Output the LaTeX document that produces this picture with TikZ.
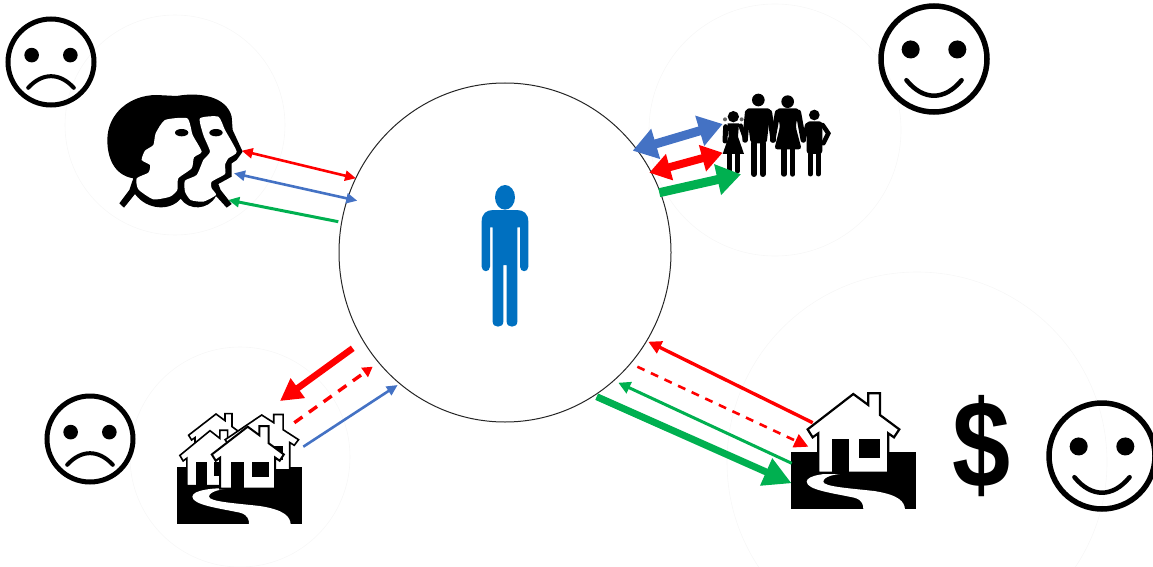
\documentclass[tikz,border=0pt]{standalone}
\usepackage{fontspec}
\setmainfont{Liberation Sans}
\usetikzlibrary{arrows.meta,shapes.geometric}
\definecolor{myred}{HTML}{FF0000}
\definecolor{myblue}{HTML}{4472C4}
\definecolor{mygreen}{HTML}{00B050}
\definecolor{personblue}{HTML}{0070C0}
\tikzset{
  thinline/.style={line width=2.6pt, >={Triangle[length=11pt,width=10pt]}},
  midline/.style={line width=3.4pt, >={Triangle[length=13pt,width=13pt]}},
  thickline/.style={line width=6.5pt, >={Triangle[length=22pt,width=23pt]}},
  fatline/.style={line width=9pt, >={Triangle[length=24pt,width=30pt]}},
  faint/.style={draw=black!3, line width=.6pt},
  sadface/.pic={
    \draw[line width=5pt] (0,0) circle (1);
    \fill (-.45,-.16) circle (.17);
    \fill (.45,-.16) circle (.17);
    \draw[line width=4pt, line cap=round] (-.53,.6) .. controls (-.2,.24) and (.2,.24) .. (.53,.6);
  },
  happyface/.pic={
    \draw[line width=5.5pt] (0,0) circle (1);
    \fill (-.44,-.18) circle (.17);
    \fill (.44,-.18) circle (.17);
    \draw[line width=4.5pt, line cap=round] (-.52,.4) .. controls (-.2,.79) and (.2,.79) .. (.52,.4);
  },
  % ground with the winding road, origin at its top left
  yard/.pic={
    \fill (0,0) rectangle (375,173);
    \fill[white] (172,65) .. controls (110,62) and (47,70) .. (47,90)
      .. controls (47,115) and (130,125) .. (190,138)
      .. controls (215,145) and (217,160) .. (217,173) -- (342,173)
      .. controls (340,150) and (325,130) .. (250,118)
      .. controls (180,110) and (97,105) .. (97,90)
      .. controls (97,75) and (130,66) .. (172,65) -- cycle;
  },
  % house, origin at the top of the roof
  homestead/.pic={
    \draw[fill=white, line join=miter] (0,0) -- (-137,106) -- (-122,130) -- (-105,118) -- (-105,236)
      -- (105,236) -- (105,118) -- (122,130) -- (138,106) -- (80,63) -- (80,-2) -- (45,-2) -- (45,33) -- cycle;
    \fill (-63,135) rectangle (-13,236);
    \fill (17,135) rectangle (80,193);
  }
}

\begin{document}
\begin{tikzpicture}[x = 1pt, y = -1pt]
\useasboundingbox (0,0) rectangle (1153,567);
% Faint rings behind the groups
\draw[faint] (175,125) circle (110);
\draw[faint] (775,130) circle (126);
\draw[faint] (240,457) circle (110);
\draw[faint] (917,462) circle (190);
% Central circle
\node[draw=black!85, ellipse, line width=1pt, minimum width=332pt, minimum height=339pt, inner sep=0pt] (self) at (505,252.5) {};
% Person in the circle
\begin{scope}[shift={(460,170)}, scale=1/3]
\fill[personblue] (135,82) ellipse (30 and 37);
\fill[personblue] (65,155) .. controls (65,130) and (80,120) .. (100,120) -- (170,120)
  .. controls (190,120) and (205,130) .. (205,155) -- (205,290)
  .. controls (205,308) and (180,308) .. (180,290) -- (180,172) -- (172,172) -- (172,455)
  .. controls (172,475) and (140,475) .. (140,455) -- (140,285) -- (130,285) -- (130,455)
  .. controls (130,475) and (98,475) .. (98,455) -- (98,172) -- (90,172) -- (90,290)
  .. controls (90,308) and (65,308) .. (65,290) -- cycle;
\end{scope}
% Friends, two heads
\begin{scope}[shift={(90,80)}, scale=1/3]
\fill (130,295) .. controls (70,285) and (52,230) .. (52,180) .. controls (52,100) and (120,45) .. (200,45)
  -- (260,48) .. controls (330,35) and (410,50) .. (425,110) -- (428,150) -- (458,215) -- (440,240) -- (425,250) -- (425,290)
  -- (385,312) -- (392,330) -- (425,372) -- (410,383) -- (378,348)
  .. controls (355,392) and (295,392) .. (272,356) .. controls (240,395) and (170,390) .. (135,342)
  -- (102,383) -- (88,370) -- (118,330) -- cycle;
\fill[white] plot[smooth cycle, tension=.35] coordinates {(225,120) (292,115) (308,165) (335,215) (312,232) (305,265) (265,295) (262,330) (240,350) (190,358) (145,328) (140,295) (175,278) (180,255) (155,240) (165,212) (190,195) (197,160)};
\fill[white] plot[smooth cycle, tension=.35] coordinates {(330,115) (385,110) (405,150) (440,215) (415,235) (405,255) (405,282) (365,305) (365,325) (378,345) (340,365) (302,360) (285,335) (285,302) (320,285) (340,240) (360,215) (340,165)};
\fill (275,158) ellipse (20 and 11);
\fill (378,158) ellipse (20 and 11);
\end{scope}
% Family
\begin{scope}[shift={(630,80)}, scale=1/3, line cap=round]
% girl
\fill[black!60] (285,118) circle (6);
\fill[black!60] (335,118) circle (6);
\fill (310,110) circle (17);
\fill (293,130) -- (327,130) -- (324,170) -- (342,222) -- (278,222) -- (296,170) -- cycle;
\draw[line width=5pt] (287,140) -- (285,183);
\draw[line width=4.5pt] (332,137) -- (347,180);
\draw[line width=5pt] (298,222) -- (298,273);
\draw[line width=5pt] (322,222) -- (322,273);
% man
\fill (385,60) circle (19);
\fill[rounded corners=3pt] (348,85) -- (422,85) -- (410,190) -- (362,190) -- cycle;
\draw[line width=5.5pt] (353,97) -- (345,180);
\draw[line width=5.5pt] (418,97) -- (430,180);
\draw[line width=6pt] (372,190) -- (372,282);
\draw[line width=6pt] (398,190) -- (398,282);
% woman
\fill (473,65) circle (19);
\fill[rounded corners=3pt] (440,85) -- (507,85) -- (497,140) -- (515,208) -- (433,208) -- (450,140) -- cycle;
\draw[line width=5.5pt] (443,97) -- (428,180);
\draw[line width=5.5pt] (505,97) -- (520,180);
\draw[line width=5.5pt] (462,205) -- (462,282);
\draw[line width=5.5pt] (488,205) -- (488,282);
% boy
\fill (553,105) circle (16);
\fill[rounded corners=3pt] (530,124) -- (577,124) -- (577,222) -- (530,222) -- cycle;
\draw[line width=4.5pt] (532,135) -- (520,180);
\draw[line width=4.5pt] (578,135) -- (595,160) -- (580,190);
\draw[line width=5pt] (541,222) -- (541,282);
\draw[line width=5pt] (565,222) -- (565,282);
\end{scope}
% Neighbourhood
\pic[scale=1/3] at (176.7,466.7) {yard};
\pic[scale=.2, line width=1.6pt] at (216,414) {homestead};
\pic[xscale=.22, yscale=.233, line width=1.6pt] at (210,430.7) {homestead};
\pic[xscale=.267, yscale=.233, line width=1.6pt] at (261.7,415) {homestead};
\pic[scale=.262, line width=2pt] at (247.7,426.7) {homestead};
% Own home
\pic[scale=1/3] at (791,451.7) {yard};
\pic[scale=1/3, line width=2.2pt] at (853.3,394) {homestead};
\node[font=\fontsize{116}{116}\selectfont\bfseries, inner sep=0pt, transform shape, xscale=.9, yscale=1.07] (dollar) at (981.5,446) {\$};
% Faces
\pic[scale=43] at (51,62) {sadface};
\pic[scale=43] at (90,439) {sadface};
\pic[scale=53] at (934,59) {happyface};
\pic[scale=53] at (1102,456) {happyface};
% Arrow ends
\coordinate (friendsRedA) at (241.7,150.7);
\coordinate (friendsRedB) at (356,178.3);
\coordinate (friendsBlueA) at (234,173.3);
\coordinate (friendsBlueB) at (357.3,200.7);
\coordinate (friendsGreenA) at (228.3,200);
\coordinate (friendsGreenB) at (338.3,221.7);
\coordinate (familyBlueA) at (632.7,150.7);
\coordinate (familyBlueB) at (722.7,124);
\coordinate (familyRedA) at (649.3,172.7);
\coordinate (familyRedB) at (722.7,152.7);
\coordinate (familyGreenA) at (659.3,192.7);
\coordinate (familyGreenB) at (741,174.3);
\coordinate (hoodRedA) at (352.7,348.3);
\coordinate (hoodRedB) at (280,401);
\coordinate (hoodDashA) at (294.3,422.7);
\coordinate (hoodDashB) at (372.7,366.7);
\coordinate (hoodBlueA) at (303.3,446.7);
\coordinate (hoodBlueB) at (397.7,385);
\coordinate (homeRedA) at (812.7,422.7);
\coordinate (homeRedB) at (648.3,341.7);
\coordinate (homeDashA) at (637.3,366.7);
\coordinate (homeDashB) at (808.3,446.7);
\coordinate (homeThinA) at (791.7,463.3);
\coordinate (homeThinB) at (618.3,382.7);
\coordinate (homeFatA) at (596.7,396.7);
\coordinate (homeFatB) at (791.7,483.3);
% Arrows to the friends
\draw[thinline, <->, myred] (friendsRedA) -- (friendsRedB);
\draw[thinline, <->, myblue] (friendsBlueA) -- (friendsBlueB);
\draw[thinline, ->, mygreen, line width=3pt] (friendsGreenB) -- (friendsGreenA);
% Arrows to the family
\draw[fatline, <->, myblue] (familyBlueA) -- (familyBlueB);
\draw[fatline, <->, myred, >={Triangle[length=21pt,width=26pt]}, line width=8pt] (familyRedA) -- (familyRedB);
\draw[fatline, ->, mygreen] (familyGreenA) -- (familyGreenB);
% Arrows to the neighbourhood
\draw[thickline, ->, myred] (hoodRedA) -- (hoodRedB);
\draw[midline, ->, myred, dash pattern=on 10pt off 8pt, >={Triangle[length=10pt,width=11pt]}] (hoodDashA) -- (hoodDashB);
\draw[thinline, ->, myblue] (hoodBlueA) -- (hoodBlueB);
% Arrows to the home
\draw[midline, ->, myred] (homeRedA) -- (homeRedB);
\draw[thinline, ->, myred, dash pattern=on 8pt off 7pt, >={Triangle[length=14pt,width=14pt]}] (homeDashA) -- (homeDashB);
\draw[thinline, ->, mygreen, line width=3pt, >={Triangle[length=12pt,width=12pt]}] (homeThinA) -- (homeThinB);
\draw[thickline, ->, mygreen, line width=7pt, >={Triangle[length=28pt,width=28pt]}] (homeFatA) -- (homeFatB);
\end{tikzpicture}
\end{document}
